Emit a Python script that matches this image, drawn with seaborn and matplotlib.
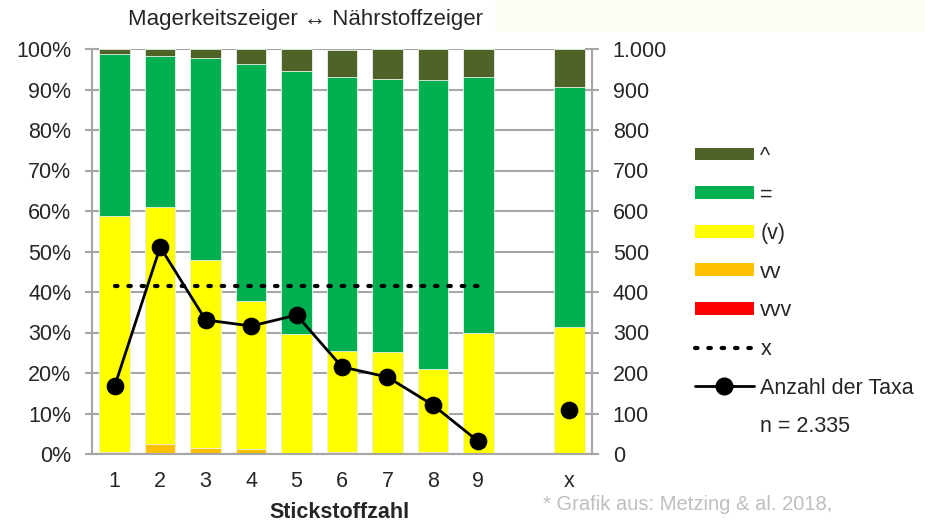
import numpy as np
import pandas as pd
import matplotlib
matplotlib.use("Agg")
import matplotlib.pyplot as plt
import seaborn as sns
from matplotlib.patches import Patch, Rectangle
from matplotlib.lines import Line2D
from matplotlib.ticker import FixedLocator

# ---- data ----
categories = ["1", "2", "3", "4", "5", "6", "7", "8", "9", " ", "x"]
# percentage shares (stacked bottom -> top)
vvv = [0.0, 0.2, 0.0, 0.0, 0.0, 0.0, 0.0, 0.0, 0.0, np.nan, 0.0]
vv = [0.4, 2.2, 1.5, 1.3, 0.0, 0.6, 0.0, 0.6, 0.0, np.nan, 0.0]
v_paren = [58.4, 58.6, 46.4, 36.5, 29.6, 24.8, 25.2, 20.4, 29.9, np.nan, 31.4]
equal = [40.0, 37.3, 49.9, 58.6, 65.0, 67.7, 67.3, 71.3, 63.2, np.nan, 59.1]
caret = [1.2, 1.7, 2.2, 3.6, 5.4, 6.7, 7.5, 7.7, 6.9, np.nan, 9.5]
x_share = [41.6, 41.6, 41.6, 41.6, 41.6, 41.6, 41.6, 41.6, 41.6, np.nan, np.nan]
taxa = [168, 511, 331, 316, 343, 215, 190, 121, 31, np.nan, 109]
right_ticks = [0, 100, 200, 300, 400, 500, 600, 700, 800, 900, 1000]
right_labels = ["0", "100", "200", "300", "400", "500", "600", "700", "800", "900", "1.000"]
left_ticks = [0, 10, 20, 30, 40, 50, 60, 70, 80, 90, 100]
left_labels = [f"{t}%" for t in left_ticks]

series_names = ["vvv", "vv", "(v)", "=", "^"]
series_vals = [vvv, vv, v_paren, equal, caret]
colors = {"^": "#4f6228", "=": "#00b050", "(v)": "#ffff00", "vv": "#ffc000", "vvv": "#ff0000"}

FONT = ["Liberation Sans", "DejaVu Sans"]
FS = 15.5
sns.set_style("white")
plt.rcParams["font.family"] = FONT
plt.rcParams["font.size"] = FS

fig = plt.figure(figsize=(9.25, 5.23), dpi=100)
ax = fig.add_axes([92 / 925, 1 - 454 / 523, 500 / 925, 405 / 523])

# faint header band
fig.patches.append(Rectangle((495 / 925, 1 - 30 / 523), 430 / 925, 30 / 523,
                             transform=fig.transFigure, color="#fdfdf4", zorder=0))

# cumulative stacks: draw tallest first
cum = np.zeros(len(categories))
cums = []
for name, vals in zip(series_names, series_vals):
    cum = cum + np.array(vals, dtype=float)
    cums.append((name, cum.copy()))
for name, c in reversed(cums):
    d = pd.DataFrame({"cat": categories, "val": c})
    sns.barplot(data=d, x="cat", y="val", order=categories, color=colors[name],
                width=0.67, ax=ax, saturation=1, edgecolor="#e8f4e8", linewidth=0.6,
                zorder=2)

# dotted x line
pos = np.arange(len(categories))
dfx = pd.DataFrame({"pos": pos, "val": x_share}).dropna()
sns.lineplot(data=dfx, x="pos", y="val", ax=ax, color="black", linestyle=(0, (0.6, 2.6)),
             linewidth=3, dash_capstyle="round", zorder=4)

ax.set_ylim(0, 100)
ax.set_xlim(-0.5, len(categories) - 0.5)
ax.set_yticks(left_ticks)
ax.set_yticklabels(left_labels)
ax.grid(axis="y", color="#a6a6a6", linewidth=1.5, zorder=0)
ax.set_axisbelow(True)
ax.set_xlabel("")
ax.set_ylabel("")
ax.set_xticks(pos)
ax.set_xticklabels(categories)
ax.tick_params(axis="x", length=0, pad=12, labelsize=FS)
ax.xaxis.set_minor_locator(FixedLocator(np.arange(-0.5, len(categories), 1.0)))
ax.tick_params(axis="x", which="minor", length=5, color="#a6a6a6", width=1.5, direction="out")
ax.tick_params(axis="y", length=10, direction="inout", color="#a6a6a6", width=1.5, pad=10,
               labelsize=FS)
for s in ["top", "right"]:
    ax.spines[s].set_visible(False)
for s in ["left", "bottom"]:
    ax.spines[s].set_color("#a6a6a6")
    ax.spines[s].set_linewidth(1.5)

# right axis: taxa counts
ax2 = ax.twinx()
dft = pd.DataFrame({"pos": pos[:9], "val": taxa[:9]})
sns.lineplot(data=dft, x="pos", y="val", ax=ax2, color="black", linewidth=2,
             marker="o", markersize=12, markeredgecolor="black", zorder=5)
dfx2 = pd.DataFrame({"pos": pos[10:], "val": taxa[10:]})
sns.lineplot(data=dfx2, x="pos", y="val", ax=ax2, color="black", linewidth=2,
             marker="o", markersize=12, markeredgecolor="black", zorder=5)
ax2.set_ylim(0, 1000)
ax2.set_yticks(right_ticks)
ax2.set_yticklabels(right_labels)
ax2.set_ylabel("")
ax2.tick_params(axis="y", length=10, direction="inout", color="#a6a6a6", width=1.5, pad=10,
                labelsize=FS)
for s in ["top", "left", "bottom"]:
    ax2.spines[s].set_visible(False)
ax2.spines["right"].set_color("#a6a6a6")
ax2.spines["right"].set_linewidth(1.5)
ax2.set_xlim(-0.5, len(categories) - 0.5)

# legend
handles = [Patch(facecolor=colors[n], edgecolor="none") for n in ["^", "=", "(v)", "vv", "vvv"]]
handles.append(Line2D([], [], color="black", linestyle=(0, (0.6, 2.6)), linewidth=3,
                      dash_capstyle="round"))
handles.append(Line2D([], [], color="black", linewidth=2, marker="o", markersize=12))
handles.append(Line2D([], [], visible=False))
labels = ["^", "=", "(v)", "vv", "vvv", "x", "Anzahl der Taxa", "n = 2.335"]
fig.legend(handles, labels, loc="upper left", bbox_to_anchor=(686 / 925, 1 - 137 / 523),
           frameon=False, fontsize=FS, handlelength=2.75, handleheight=0.55,
           handletextpad=0.3, labelspacing=0.82, borderaxespad=0)

fig.text(306 / 925, 1 - 20 / 523, "Magerkeitszeiger \u2194 Nährstoffzeiger", ha="center",
         va="center", fontsize=16, family=FONT)
fig.text(339 / 925, 1 - 512 / 523, "Stickstoffzahl", ha="center", va="center",
         fontsize=15.5, fontweight="bold", family=FONT)
fig.text(543 / 925, 1 - 504 / 523, "* Grafik aus: Metzing & al. 2018,", ha="left",
         va="center", fontsize=14.5, color="#bfbfbf", family=FONT)

fig.savefig("out.png", dpi=100)
